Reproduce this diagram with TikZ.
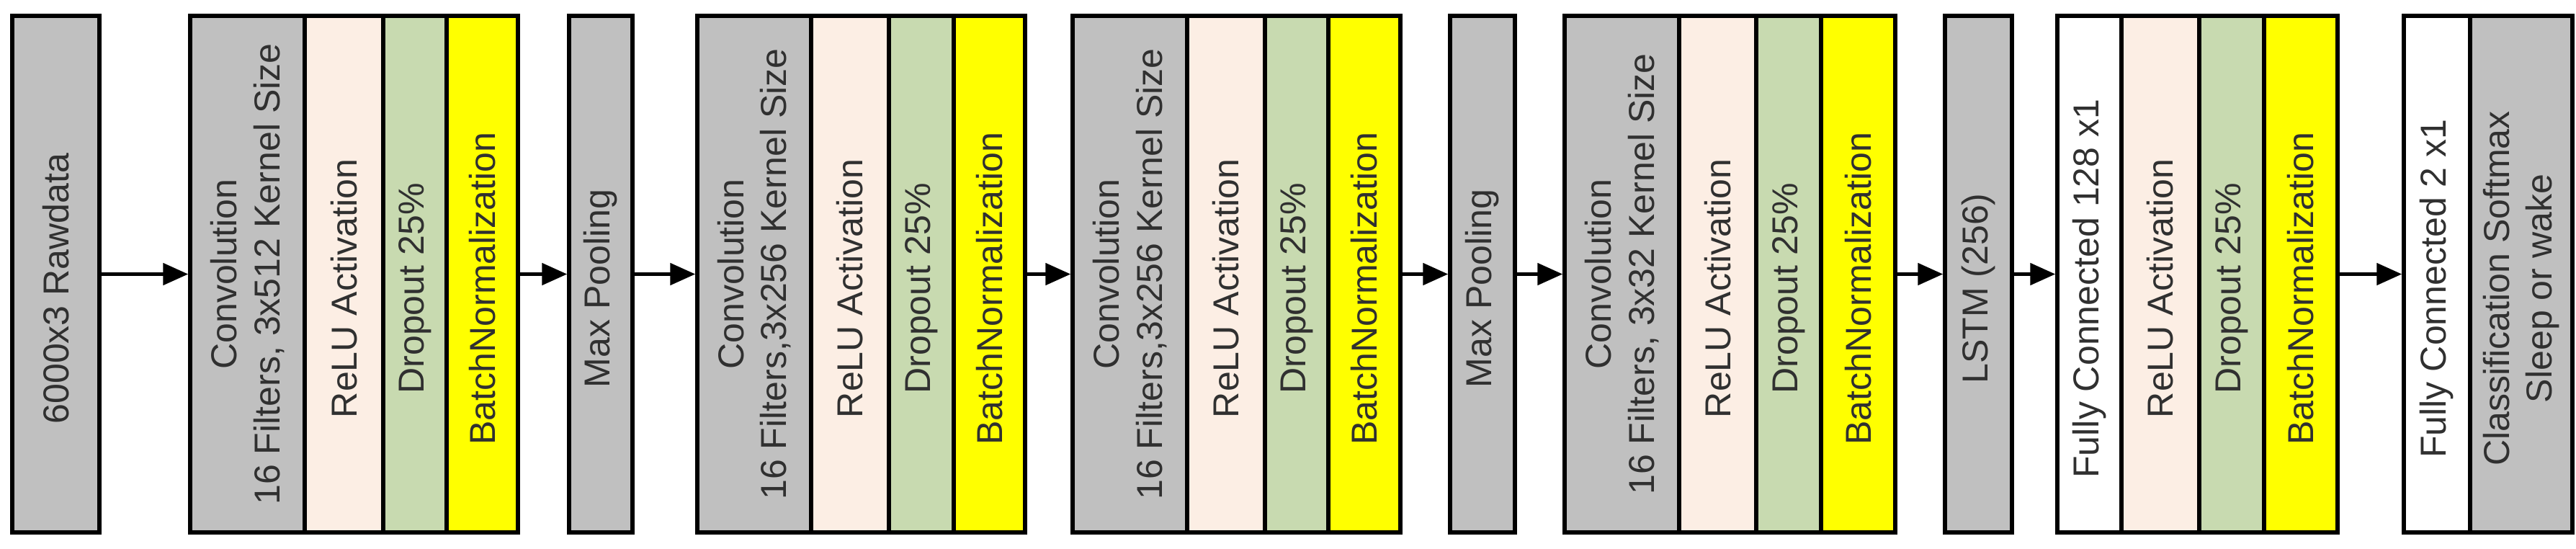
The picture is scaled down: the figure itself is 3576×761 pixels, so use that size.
\documentclass[tikz,border=0pt]{standalone}
\usepackage{fontspec}
\setmainfont{Liberation Sans}
\usetikzlibrary{arrows.meta}
\definecolor{gr}{HTML}{C0C0C0}
\definecolor{relu}{HTML}{FCEEE4}
\definecolor{drop}{HTML}{C8DAB0}
\definecolor{bn}{HTML}{FFFF00}
\definecolor{txtc}{HTML}{303030}
\tikzset{
  blk/.style={draw=black, line width=1.1mm, rectangle, rotate=90, inner sep=0pt, minimum width=143.4mm},
  txt/.style={rotate=90, align=center, text=txtc, font=\fontsize{28.5}{34}\selectfont, inner sep=0pt},
  arr/.style={line width=1mm, -{Triangle[length=7mm,width=6mm]}}
}
\newcommand{\blk}[6][-4mm]{%
  \node[blk, fill=#5, minimum height={#4*0.2mm}] (#2) at ({#3+#4/2},380.5) {};
  \node[txt] at ([yshift=#1]#2.center) {#6};}
\begin{document}
\begin{tikzpicture}[x=0.2mm,y=0.2mm]
\useasboundingbox (0,0) rectangle (3576,761);
\blk{raw}{17}{121}{gr}{6000x3 Rawdata}
\blk[0mm]{c1}{264}{159}{gr}{Convolution\\16 Filters, 3x512 Kernel Size}
\blk{r1}{423}{109}{relu}{ReLU Activation}
\blk{d1}{532}{88}{drop}{Dropout 25\%}
\blk{b1}{620}{99}{bn}{BatchNormalization}
\blk{mp1}{790}{88}{gr}{Max Pooling}
\blk[0mm]{c2}{968}{158}{gr}{Convolution\\16 Filters,3x256 Kernel Size}
\blk{r2}{1126}{108}{relu}{ReLU Activation}
\blk{d2}{1234}{90}{drop}{Dropout 25\%}
\blk{b2}{1324}{99}{bn}{BatchNormalization}
\blk[0mm]{c3}{1489}{159}{gr}{Convolution\\16 Filters,3x256 Kernel Size}
\blk{r3}{1648}{108}{relu}{ReLU Activation}
\blk{d3}{1756}{88}{drop}{Dropout 25\%}
\blk{b3}{1844}{100}{bn}{BatchNormalization}
\blk{mp2}{2013}{90}{gr}{Max Pooling}
\blk[0mm]{c4}{2172}{159}{gr}{Convolution\\16 Filters, 3x32 Kernel Size}
\blk{r4}{2331}{107}{relu}{ReLU Activation}
\blk{d4}{2438}{90}{drop}{Dropout 25\%}
\blk{b4}{2528}{103}{bn}{BatchNormalization}
\blk{lstm}{2700}{93}{gr}{LSTM (256)}
\blk{fc}{2856}{89}{white}{Fully Connected 128 x1}
\blk{r5}{2945}{108}{relu}{ReLU Activation}
\blk{d5}{3053}{90}{drop}{Dropout 25\%}
\blk{b5}{3143}{102}{bn}{BatchNormalization}
\blk{fc2}{3337}{92}{white}{Fully Connected 2 x1}
\blk{cls}{3429}{142}{gr}{Classification Softmax\\Sleep or wake}
\draw[arr] (raw.south) -- (c1.north);
\draw[arr] (b1.south) -- (mp1.north);
\draw[arr] (mp1.south) -- (c2.north);
\draw[arr] (b2.south) -- (c3.north);
\draw[arr] (b3.south) -- (mp2.north);
\draw[arr] (mp2.south) -- (c4.north);
\draw[arr] (b4.south) -- (lstm.north);
\draw[arr] (lstm.south) -- (fc.north);
\draw[arr] (b5.south) -- (fc2.north);
\end{tikzpicture}
\end{document}
